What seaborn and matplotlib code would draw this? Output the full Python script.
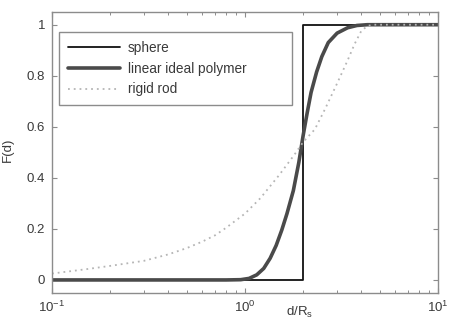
import matplotlib
matplotlib.use("Agg")
import matplotlib.pyplot as plt
from matplotlib.ticker import LogLocator, NullFormatter, FixedLocator
import numpy as np
import pandas as pd
import seaborn as sns

# Cumulative distributions F(d) versus normalised distance d/R_s
sphere_d = [0.1, 2.0, 2.0, 10.0]
sphere_F = [0.0, 0.0, 1.0, 1.0]

polymer_d = [0.1, 0.5, 0.8, 0.95, 1.05, 1.15, 1.25, 1.35, 1.45, 1.55, 1.65,
             1.78, 1.9, 2.0, 2.1, 2.2, 2.35, 2.5, 2.7, 3.0, 3.4, 3.8, 4.3, 10.0]
polymer_F = [0.0, 0.0, 0.0, 0.001, 0.006, 0.02, 0.045, 0.085, 0.135, 0.195,
             0.26, 0.35, 0.46, 0.565, 0.655, 0.735, 0.815, 0.875, 0.93, 0.967,
             0.988, 0.997, 1.0, 1.0]

rod_d = [0.1, 0.15, 0.2, 0.3, 0.4, 0.5, 0.6, 0.7, 0.8, 1.0, 1.2, 1.5, 1.8,
         2.0, 2.3, 2.6, 3.0, 3.4, 3.7, 4.0, 4.3, 4.6, 10.0]
rod_F = [0.025, 0.042, 0.055, 0.075, 0.10, 0.125, 0.15, 0.175, 0.205, 0.26,
         0.32, 0.41, 0.49, 0.54, 0.59, 0.67, 0.77, 0.86, 0.925, 0.975,
         0.995, 1.0, 1.0]

series_names = ["sphere", "linear ideal polymer", "rigid rod"]

sns.set_style("white")
plt.rcParams["font.family"] = ["Liberation Sans", "DejaVu Sans"]

fig = plt.figure(figsize=(4.51, 3.23), dpi=100)
ax = fig.add_axes([0.1153, 0.0938, 0.8559, 0.8692])

sns.lineplot(x=sphere_d, y=sphere_F, ax=ax, sort=False, estimator=None,
             color="#111111", lw=1.3, label=series_names[0])
sns.lineplot(x=polymer_d, y=polymer_F, ax=ax, sort=False, estimator=None,
             color="#4a4a4a", lw=2.6, label=series_names[1])
sns.lineplot(x=rod_d, y=rod_F, ax=ax, sort=False, estimator=None,
             color="#b5b5b5", lw=1.3, ls=(0, (1, 2.2)), label=series_names[2])

ax.set_xscale("log")
ax.set_xlim(0.1, 10)
ax.set_ylim(-0.05, 1.05)

spine_c = "#8c8c8c"
text_c = "#3a3a3a"
for s in ax.spines.values():
    s.set_visible(True)
    s.set_color(spine_c)
    s.set_linewidth(1.0)

ax.yaxis.set_major_locator(FixedLocator([0, 0.2, 0.4, 0.6, 0.8, 1.0]))
ax.set_yticklabels(["0", "0.2", "0.4", "0.6", "0.8", "1"])
ax.xaxis.set_major_locator(FixedLocator([0.1, 1, 10]))
ax.set_xticklabels([r"$\mathregular{10^{-1}}$", r"$\mathregular{10^{0}}$",
                    r"$\mathregular{10^{1}}$"])
ax.xaxis.set_minor_locator(LogLocator(base=10, subs=np.arange(2, 10), numticks=20))
ax.xaxis.set_minor_formatter(NullFormatter())

ax.tick_params(axis="both", which="both", direction="in", top=True, right=True,
               bottom=True, left=True, color=spine_c, labelcolor=text_c,
               labelsize=9.5)
ax.tick_params(axis="both", which="major", length=3.5, width=0.8, pad=5)
ax.tick_params(axis="x", which="minor", length=2, width=0.7)

ax.set_xlabel("d/R$_\\mathregular{s}$", color=text_c, fontsize=9.5)
ax.set_ylabel("F(d)", color=text_c, fontsize=9.5)
ax.xaxis.set_label_coords((300 - 52) / 386, -0.045)
ax.yaxis.set_label_coords(-0.098, 0.508)

leg = ax.legend(loc="upper left", bbox_to_anchor=(0.018, 0.683, 0.604, 0.246),
                mode="expand", frameon=True, fancybox=False, framealpha=1,
                edgecolor=spine_c, fontsize=9.8, handlelength=3.8,
                handletextpad=0.6, borderpad=0.65, labelspacing=0.5,
                borderaxespad=0)
leg.get_frame().set_linewidth(1.0)
for t in leg.get_texts():
    t.set_color(text_c)

fig.savefig("out.png", dpi=100, facecolor="white")
